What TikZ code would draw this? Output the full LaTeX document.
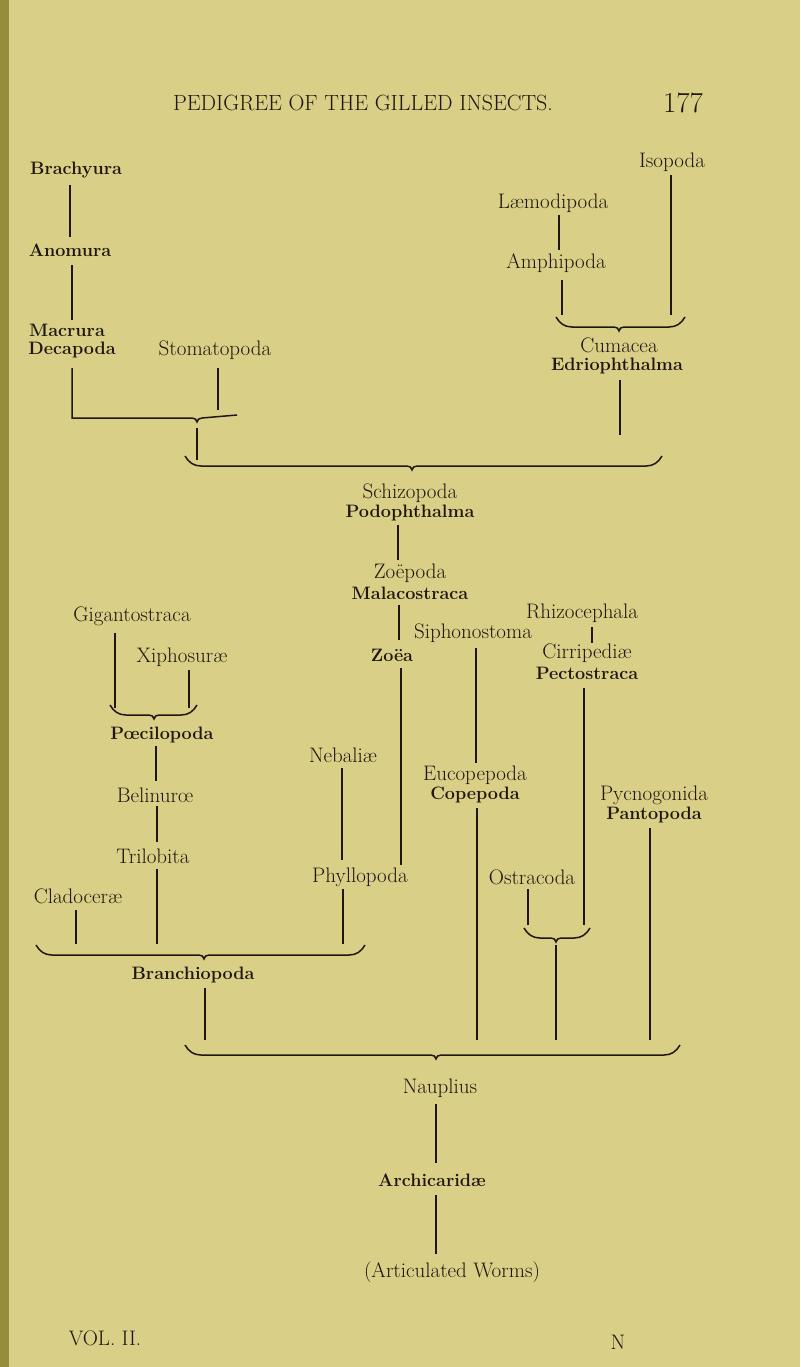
\documentclass[tikz,border=0pt]{standalone}
\definecolor{paper}{RGB}{218,207,135}
\definecolor{spine}{RGB}{150,140,60}
\definecolor{ink}{RGB}{30,22,15}
\newcommand\mybrace[4]{% x1 x2 xmid y
  \draw[ink,line width=1.5pt] (#1,#4-10) to[out=-60,in=180] (#1+16,#4) -- (#3-5,#4) to[out=0,in=90] (#3,#4+4) to[out=90,in=180] (#3+5,#4) -- (#2-16,#4) to[out=0,in=-120] (#2,#4-10);}
\begin{document}
\begin{tikzpicture}[x=1pt,y=-1pt,
  lb/.style={inner sep=1pt,text=ink,font=\fontsize{21}{23}\selectfont},
  bl/.style={lb,font=\fontsize{18}{20}\selectfont\bfseries},
  ln/.style={ink,line width=1.1pt}]
\fill[paper] (0,0) rectangle (800,1367);
\fill[spine] (0,0) rectangle (9,1367);
\useasboundingbox (0,0) rectangle (800,1367);
\node[lb,font=\fontsize{22}{24}\selectfont] (hd) at (363,103) {PEDIGREE OF THE GILLED INSECTS.};
\node[lb,font=\fontsize{29}{31}\selectfont] (pg) at (683,103) {177};
% top left
\node[bl] (bra) at (76,170) {Brachyura};
\node[bl] (ano) at (70,250) {Anomura};
\node[bl] (mac) at (67,330) {Macrura};
\node[bl] (dec) at (72,350) {Decapoda};
\node[lb] (sto) at (215,350) {Stomatopoda};
\draw[ln] (70,185) -- (70,237);
\draw[ln] (72,265) -- (72,320);
\draw[ln] (218,368) -- (218,410);
\draw[ink,line width=1.5pt] (72,368) -- (72,418) -- (192,418) to[out=0,in=90] (197,422) to[out=90,in=180] (202,418) -- (237,415);
\draw[ln] (197,428) -- (197,460);
\mybrace{185}{662}{412}{466}
% top right
\node[lb] (iso) at (672,162) {Isopoda};
\node[lb] (lae) at (553,203) {Læmodipoda};
\node[lb] (amp) at (556,263) {Amphipoda};
\node[lb] (cum) at (619,345) {Cumacea};
\node[bl] (edr) at (617,366) {Edriophthalma};
\draw[ln] (559,215) -- (559,250);
\draw[ln] (562,280) -- (562,315);
\draw[ln] (671,175) -- (671,315);
\mybrace{556}{685}{619}{327}
\draw[ln] (620,380) -- (620,435);
% middle
\node[lb] (sch) at (410,493) {Schizopoda};
\node[bl] (pod) at (410,513) {Podophthalma};
\node[lb] (zoe) at (410,573) {Zoëpoda};
\node[bl] (mal) at (410,593) {Malacostraca};
\draw[ln] (398,525) -- (398,560);
\node[lb] (rhi) at (582,613) {Rhizocephala};
\node[lb] (sip) at (473,633) {Siphonostoma};
\node[bl] (zoa) at (392,655) {Zoëa};
\node[lb] (cir) at (587,653) {Cirripediæ};
\node[bl] (pec) at (587,673) {Pectostraca};
\draw[ln] (399,605) -- (399,640);
\draw[ln] (592,627) -- (592,643);
\draw[ln] (401,668) -- (401,865);
\draw[ln] (476,648) -- (476,763);
\draw[ln] (584,688) -- (584,925);
\node[lb] (neb) at (343,755) {Nebaliæ};
\node[lb] (euc) at (475,775) {Eucopepoda};
\node[bl] (cop) at (475,795) {Copepoda};
\node[lb] (pyc) at (654,795) {Pycnogonida};
\node[bl] (pan) at (654,815) {Pantopoda};
\draw[ln] (342,768) -- (342,860);
\draw[ln] (477,808) -- (477,1040);
\draw[ln] (650,828) -- (650,1040);
\node[lb] (phy) at (360,877) {Phyllopoda};
\node[lb] (ost) at (532,877) {Ostracoda};
\draw[ln] (343,889) -- (343,944);
\draw[ln] (528,889) -- (528,925);
\mybrace{524}{590}{556}{938}
\draw[ln] (556,945) -- (556,1040);
% left
\node[lb] (gig) at (132,616) {Gigantostraca};
\node[lb] (xip) at (182,657) {Xiphosuræ};
\draw[ln] (115,633) -- (115,708);
\draw[ln] (189,670) -- (189,708);
\mybrace{110}{197}{154}{715}
\node[bl] (poe) at (162,735) {Pœcilopoda};
\node[lb] (bel) at (155,795) {Belinurœ};
\node[lb] (tri) at (153,856) {Trilobita};
\node[lb] (cla) at (78,896) {Cladoceræ};
\draw[ln] (156,746) -- (156,781);
\draw[ln] (157,806) -- (157,842);
\draw[ln] (157,869) -- (157,944);
\draw[ln] (76,910) -- (76,944);
\mybrace{36}{365}{204}{955}
\node[bl] (brn) at (193,975) {Branchiopoda};
\draw[ln] (205,988) -- (205,1040);
\mybrace{185}{680}{436}{1055}
\node[lb] (nau) at (440,1088) {Nauplius};
\node[bl] (arc) at (432,1180) {Archicaridæ};
\node[lb] (wor) at (452,1272) {(Articulated Worms)};
\draw[ln] (436,1104) -- (436,1163);
\draw[ln] (436,1195) -- (436,1254);
\node[lb] (vol) at (105,1338) {VOL. II.};
\node[lb] (nn) at (618,1342) {N};
\end{tikzpicture}
\end{document}
